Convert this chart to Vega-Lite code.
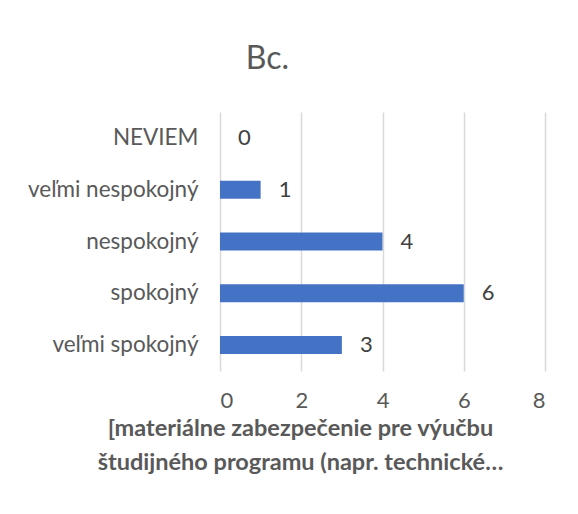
{
  "$schema": "https://vega.github.io/schema/vega-lite/v6.json",
  "width": 325,
  "height": 259,
  "autosize": "none",
  "padding": {"left": 220, "top": 112, "right": 33, "bottom": 143},
  "background": "white",
  "config": {
    "font": "Lato",
    "view": {"stroke": null},
    "axis": {"labelColor": "#595959", "titleColor": "#595959", "labelFont": "Lato", "titleFont": "Lato"}
  },
  "title": {
    "text": "Bc.",
    "fontSize": 32,
    "font": "Lato",
    "fontWeight": "normal",
    "color": "#595959",
    "anchor": "middle",
    "dx": -115,
    "offset": 36
  },
  "data": {
    "values": [
      {"kategoria": "NEVIEM", "pocet": 0},
      {"kategoria": "veľmi nespokojný", "pocet": 1},
      {"kategoria": "nespokojný", "pocet": 4},
      {"kategoria": "spokojný", "pocet": 6},
      {"kategoria": "veľmi spokojný", "pocet": 3}
    ]
  },
  "encoding": {
    "y": {
      "field": "kategoria",
      "type": "nominal",
      "sort": ["NEVIEM", "veľmi nespokojný", "nespokojný", "spokojný", "veľmi spokojný"],
      "axis": {
        "title": null,
        "domain": false,
        "ticks": false,
        "labelFontSize": 22.5,
        "labelPadding": 22,
        "labelLimit": 300
      }
    },
    "x": {
      "field": "pocet",
      "type": "quantitative",
      "scale": {"domain": [0, 8]},
      "axis": {
        "values": [0, 2, 4, 6, 8],
        "domain": false,
        "ticks": false,
        "grid": true,
        "gridColor": "#D9D9D9",
        "gridWidth": 1.5,
        "labelFontSize": 22,
        "labelPadding": 19,
        "title": ["[materiálne zabezpečenie pre výučbu", "študijného programu (napr. technické…"],
        "titleFontSize": 23.5,
        "titleFontWeight": "bold",
        "titleLineHeight": 34,
        "titleAnchor": "middle",
        "titleX": 80,
        "titleY": 45
      }
    }
  },
  "layer": [
    {
      "mark": {"type": "bar", "color": "#4472C4", "size": 18}
    },
    {
      "mark": {"type": "text", "align": "left", "baseline": "middle", "dx": 18, "fontSize": 22, "color": "#404040"},
      "encoding": {"text": {"field": "pocet", "type": "quantitative"}}
    }
  ]
}
